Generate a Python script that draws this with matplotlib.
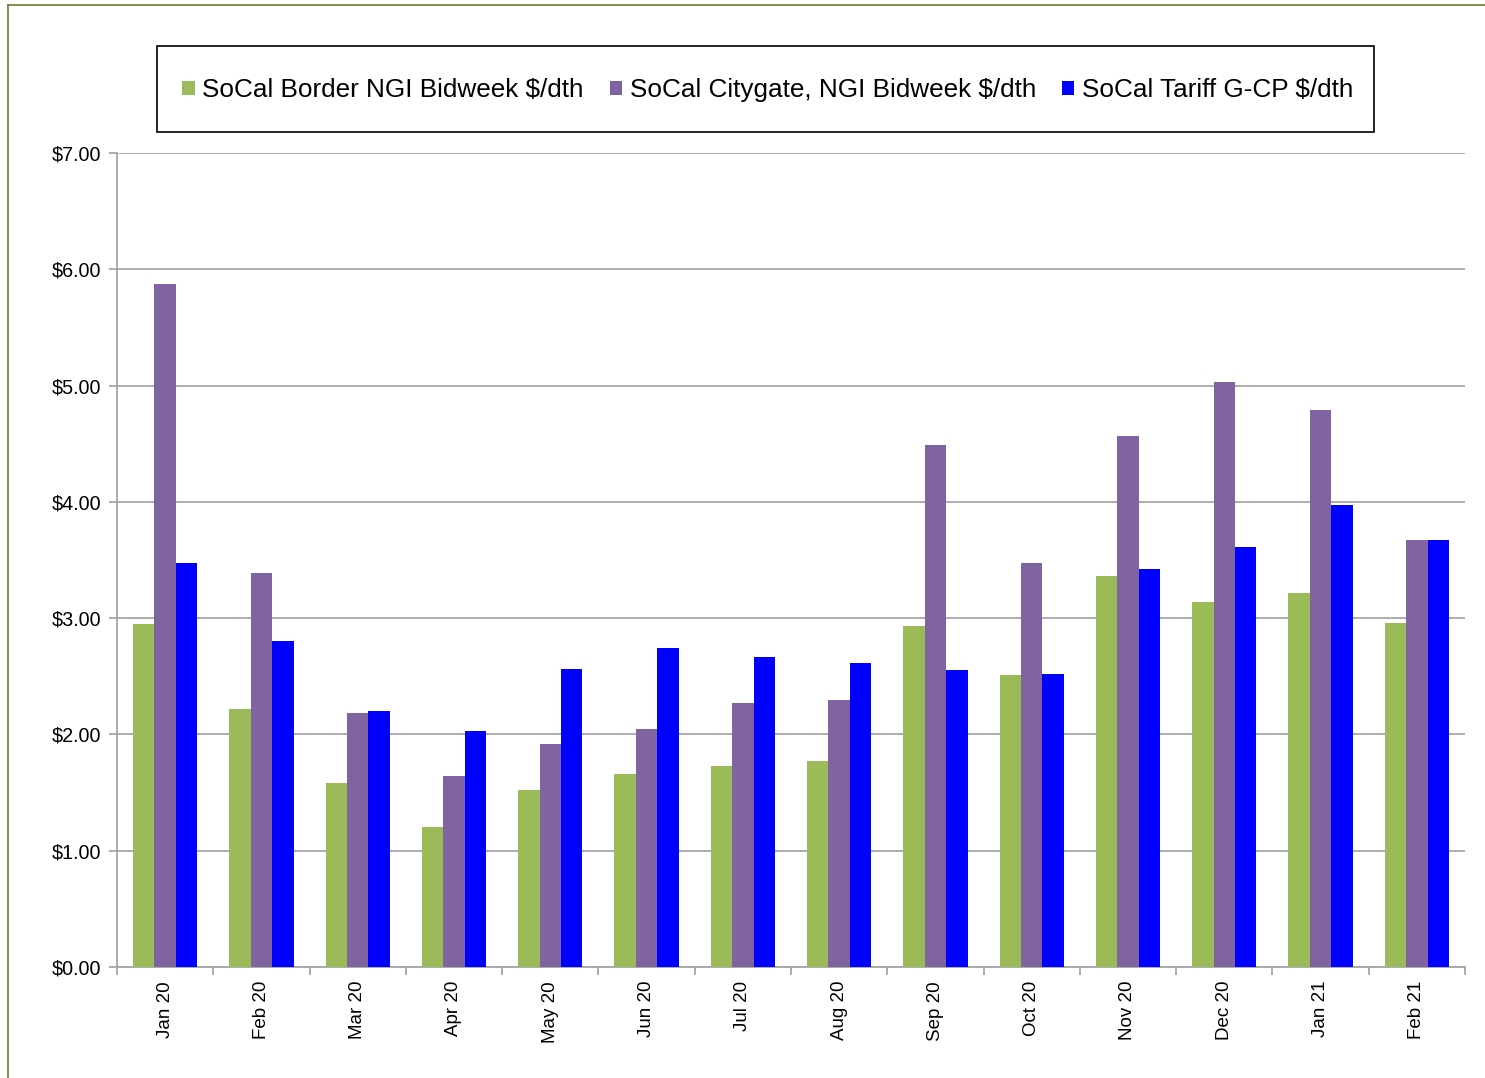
import matplotlib
matplotlib.use("Agg")
import matplotlib.pyplot as plt
import numpy as np
from matplotlib.patches import Rectangle
from matplotlib.lines import Line2D

plt.rcParams['font.family'] = ['Liberation Sans', 'DejaVu Sans']

months = ["Jan 20", "Feb 20", "Mar 20", "Apr 20", "May 20", "Jun 20", "Jul 20",
          "Aug 20", "Sep 20", "Oct 20", "Nov 20", "Dec 20", "Jan 21", "Feb 21"]
border = [2.95, 2.22, 1.58, 1.20, 1.52, 1.66, 1.73, 1.77, 2.93, 2.51, 3.36, 3.14, 3.22, 2.96]
citygate = [5.87, 3.39, 2.18, 1.64, 1.92, 2.05, 2.27, 2.30, 4.49, 3.47, 4.57, 5.03, 4.79, 3.67]
tariff = [3.47, 2.80, 2.20, 2.03, 2.56, 2.74, 2.67, 2.61, 2.55, 2.52, 3.42, 3.61, 3.97, 3.67]
labels = ["SoCal Border NGI Bidweek $/dth", "SoCal Citygate, NGI Bidweek $/dth",
          "SoCal Tariff G-CP $/dth"]
colors = ["#9BBB59", "#8064A2", "#0000FF"]

fig = plt.figure(figsize=(14.85, 10.78), dpi=100)
ax = fig.add_axes([117/1485, 111/1078, (1465-117)/1485, (967-153)/1078])

x = np.arange(len(months))
w = 0.223
for i, (vals, c, lab) in enumerate(zip([border, citygate, tariff], colors, labels)):
    ax.bar(x + (i - 1) * w, vals, width=w, color=c, label=lab, zorder=3)

ax.set_xlim(-0.5, len(months) - 0.5)
ax.set_ylim(0, 7)
ax.set_yticks(np.arange(0, 8, 1))
ax.set_yticklabels([f"${v:.2f}" for v in range(8)], fontsize=14.2)
ax.yaxis.grid(True, color="#A6A6A6", linewidth=1.3, zorder=0)
ax.tick_params(axis='y', length=6, color="#A6A6A6", width=1.3, pad=5)

ax.set_xticks(x)
ax.set_xticklabels(months, rotation=90, fontsize=13.5)
ax.tick_params(axis='x', which='major', length=0, pad=10)
ax.set_xticks(np.arange(-0.5, len(months), 1), minor=True)
ax.tick_params(axis='x', which='minor', length=6, color="#A6A6A6", width=1.3)

for s in ['top', 'right']:
    ax.spines[s].set_visible(False)
for s in ['left', 'bottom']:
    ax.spines[s].set_color("#A6A6A6")
    ax.spines[s].set_linewidth(1.3)

# legend box
fig.patches.append(Rectangle((157/1485, 1-132/1078), (1374-157)/1485, (132-46)/1078,
                             transform=fig.transFigure, fill=False, edgecolor="black",
                             linewidth=1.2))
handles, labs = ax.get_legend_handles_labels()
fig.legend(handles, labs, loc='center', bbox_to_anchor=(768/1485, 1-90/1078), ncol=3,
           frameon=False, fontsize=18.8, handlelength=0.46, handleheight=0.46,
           handletextpad=0.3, columnspacing=1.0)

# figure border lines (top and left)
fig.add_artist(Line2D([8/1485, 8/1485], [0, 1-5/1078], transform=fig.transFigure,
                      color="#6B7A2E", linewidth=1.2))
fig.add_artist(Line2D([8/1485, 1], [1-5/1078, 1-5/1078], transform=fig.transFigure,
                      color="#6B7A2E", linewidth=1.2))

fig.savefig("out.png", dpi=100)
